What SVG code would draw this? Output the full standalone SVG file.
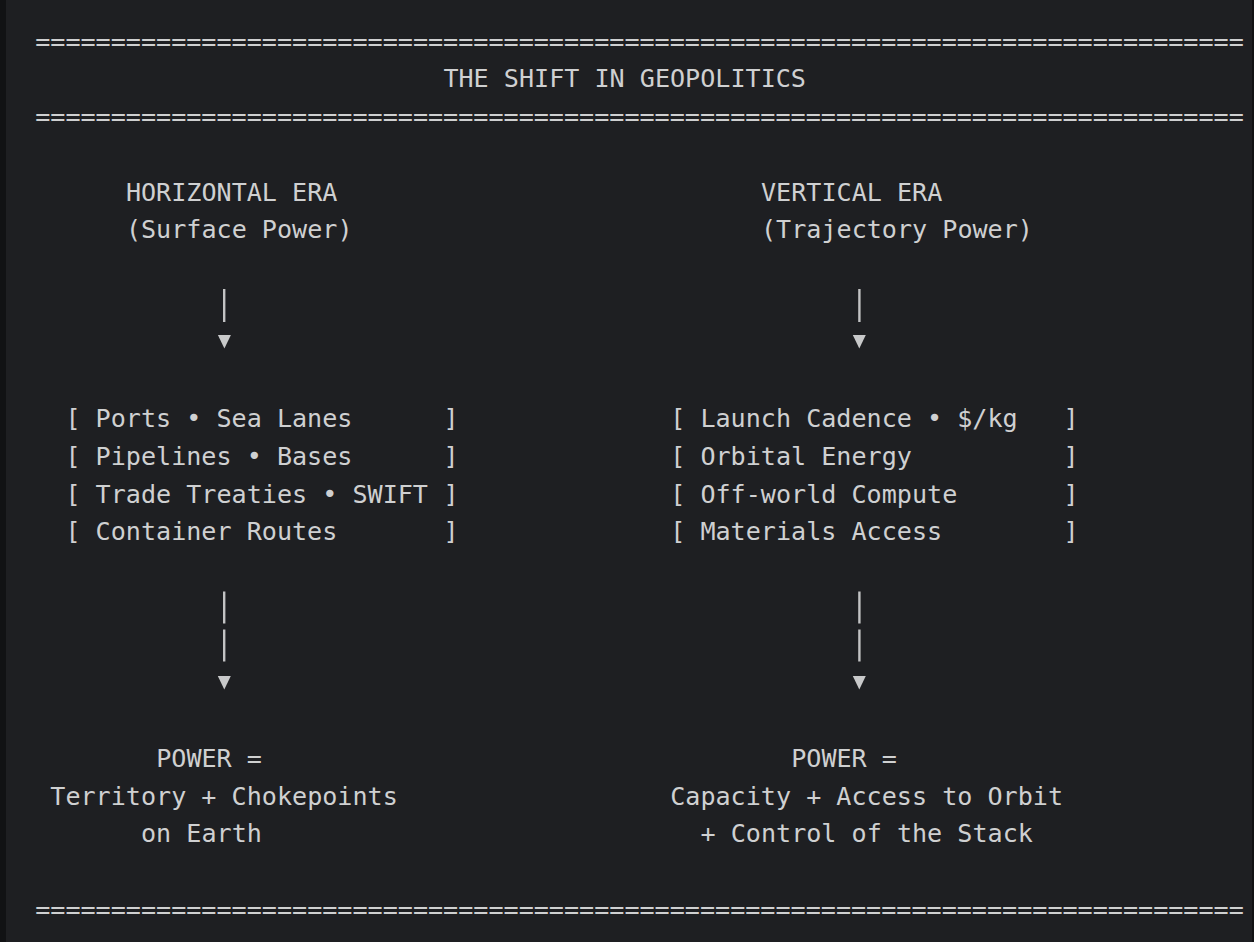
<svg xmlns="http://www.w3.org/2000/svg" width="1254" height="942" viewBox="0 0 1254 942">
<style>
text{font-family:"DejaVu Sans Mono","Liberation Mono",monospace;font-size:25.1px;fill:#cfd0d1}
.bar{stroke:#c2c3c4;stroke-width:2.4;fill:none}
.tri{fill:#c8c9ca}
</style>
<rect x="0" y="0" width="1254" height="942" fill="#1e1f22"/>
<rect x="0" y="0" width="6" height="942" fill="#111214"/>
<rect x="1252" y="0" width="2" height="942" fill="#111214"/>
<g id="header">
<text x="35.2" y="49.5">================================================================================</text>
<text x="443.4" y="87.25">THE SHIFT IN GEOPOLITICS</text>
<text x="35.2" y="125">================================================================================</text>
</g>
<g id="horizontal-era">
<text x="125.9" y="200.5">HORIZONTAL ERA</text>
<text x="125.9" y="238.25">(Surface Power)</text>
</g>
<g id="vertical-era">
<text x="761" y="200.5">VERTICAL ERA</text>
<text x="761" y="238.25">(Trajectory Power)</text>
</g>
<g id="surface-assets">
<text y="427"><tspan x="65.4">[ Ports • Sea Lanes</tspan><tspan x="443.4">]</tspan></text>
<text y="464.75"><tspan x="65.4">[ Pipelines • Bases</tspan><tspan x="443.4">]</tspan></text>
<text y="502.5"><tspan x="65.4">[ Trade Treaties • SWIFT</tspan><tspan x="443.4">]</tspan></text>
<text y="540.25"><tspan x="65.4">[ Container Routes</tspan><tspan x="443.4">]</tspan></text>
</g>
<g id="trajectory-assets">
<text y="427"><tspan x="670.2">[ Launch Cadence • $/kg</tspan><tspan x="1063.4">]</tspan></text>
<text y="464.75"><tspan x="670.2">[ Orbital Energy</tspan><tspan x="1063.4">]</tspan></text>
<text y="502.5"><tspan x="670.2">[ Off-world Compute</tspan><tspan x="1063.4">]</tspan></text>
<text y="540.25"><tspan x="670.2">[ Materials Access</tspan><tspan x="1063.4">]</tspan></text>
</g>
<g id="surface-power">
<text x="156.2" y="766.75">POWER =</text>
<text x="50.3" y="804.5">Territory + Chokepoints</text>
<text x="141" y="842.25">on Earth</text>
</g>
<g id="trajectory-power">
<text x="791.2" y="766.75">POWER =</text>
<text x="670.2" y="804.5">Capacity + Access to Orbit</text>
<text x="700.5" y="842.25">+ Control of the Stack</text>
</g>
<g id="footer">
<text x="35.2" y="917.75">================================================================================</text>
</g>
<g id="connectors">
<line class="bar" x1="224.2" y1="289" x2="224.2" y2="322"/>
<polygon class="tri" points="217.9,335 230.9,335 224.4,348.5"/>
<line class="bar" x1="859.4" y1="289" x2="859.4" y2="322"/>
<polygon class="tri" points="852.8,335 865.8,335 859.3,348.5"/>
<line class="bar" x1="224.2" y1="591.5" x2="224.2" y2="623.5"/>
<line class="bar" x1="224.2" y1="629.5" x2="224.2" y2="661.5"/>
<polygon class="tri" points="217.8,676 230.8,676 224.3,689.5"/>
<line class="bar" x1="859.4" y1="591.5" x2="859.4" y2="623.5"/>
<line class="bar" x1="859.4" y1="629.5" x2="859.4" y2="661.5"/>
<polygon class="tri" points="852.8,676 865.8,676 859.3,689.5"/>
</g>
</svg>
